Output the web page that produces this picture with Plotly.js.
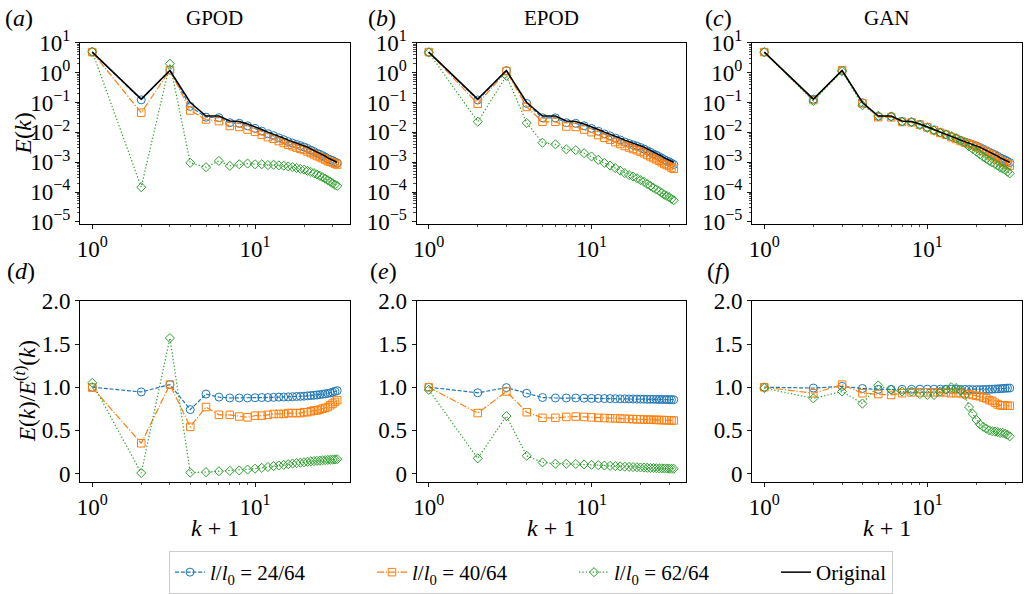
<!DOCTYPE html>
<html>
<head>
<meta charset="utf-8">
<script src="https://cdn.plot.ly/plotly-3.0.1.min.js"></script>
<style>html,body{margin:0;padding:0;background:#fff;}#chart{width:1028px;height:594px;}</style>
</head>
<body>
<div id="chart"></div>
<script>
// ---------- data (k + 1) ----------
const kPlus1 = [1,2,3,4,5,6,7,8,9,10,11,12,13,14,15,16,17,18,19,20,21,22,23,24,25,26,27,28,29,30,31,32];

// Original spectrum E(k)
const origE = [4.9,0.13,1.18,0.10,0.035,0.035,0.024,0.023,0.019,0.0155,0.0125,0.0102,0.0088,0.0074,0.0064,0.0055,0.0049,0.0044,0.0040,0.0036,0.0032,0.0028,0.0025,0.0022,0.0020,0.0018,0.0016,0.0014,0.0013,0.0012,0.00107,0.00098];

// GPOD spectra
const gpodE24 = [4.9,0.123,1.215,0.074,0.0322,0.031,0.021,0.0201,0.0166,0.0136,0.0110,0.00898,0.00776,0.00655,0.00567,0.00488,0.00436,0.00392,0.00358,0.00323,0.00288,0.00253,0.00227,0.00200,0.00183,0.00165,0.00148,0.00130,0.00121,0.00113,0.00102,0.00094];
const gpodE40 = [4.88,0.0455,1.215,0.054,0.027,0.0238,0.0163,0.0152,0.0124,0.0104,0.0084,0.0069,0.0061,0.0051,0.0044,0.00385,0.00343,0.00308,0.0028,0.00256,0.00227,0.00202,0.00183,0.00161,0.00148,0.00135,0.00122,0.00108,0.00103,0.00097,0.00089,0.00083];
const gpodE62 = [5.1,0.000145,2.0,0.00095,0.00068,0.0011,0.00075,0.00085,0.0009,0.00085,0.00085,0.0008,0.00082,0.00078,0.00076,0.00072,0.00068,0.00064,0.0006,0.00056,0.00051,0.00047,0.00043,0.00039,0.00035,0.00031,0.00028,0.00025,0.00022,0.000195,0.000175,0.00016];

// EPOD spectra
const epodE24 = [4.9,0.1215,1.174,0.093,0.0308,0.0306,0.021,0.0201,0.0166,0.0135,0.0109,0.00885,0.00764,0.00641,0.00554,0.00476,0.00423,0.0038,0.00345,0.0031,0.00276,0.00241,0.00215,0.00189,0.00172,0.00154,0.00137,0.0012,0.00111,0.00103,0.00092,0.00084];
const epodE40 = [4.9,0.091,1.12,0.071,0.0226,0.0226,0.0157,0.0152,0.0124,0.0101,0.0081,0.00656,0.00563,0.00472,0.00407,0.00349,0.0031,0.00277,0.00251,0.00226,0.002,0.00175,0.00156,0.00137,0.00124,0.00112,0.00099,0.00087,0.0008,0.00074,0.00066,0.0006];
const epodE62 = [4.75,0.0228,0.785,0.0205,0.00448,0.00396,0.00269,0.00253,0.002,0.00155,0.0012,0.00094,0.00077,0.00063,0.00052,0.00043,0.00037,0.00033,0.00029,0.00025,0.00022,0.000185,0.00016,0.000139,0.000122,0.000108,0.000094,0.000081,0.000074,0.000067,0.000059,0.000053];

// GAN spectra
const ganE24 = [4.9,0.129,1.19,0.0985,0.0341,0.0341,0.0234,0.0224,0.0186,0.0151,0.0122,0.00997,0.0086,0.00723,0.00625,0.00536,0.00477,0.00428,0.00389,0.0035,0.00311,0.00272,0.00244,0.00215,0.00195,0.00176,0.00157,0.00138,0.00128,0.00118,0.00106,0.00097];
const ganE40 = [4.9,0.121,1.215,0.093,0.0322,0.0319,0.0223,0.0216,0.0179,0.0146,0.01175,0.0096,0.00827,0.00688,0.00595,0.00512,0.00451,0.00405,0.00364,0.00324,0.00286,0.00246,0.00218,0.00187,0.00168,0.00148,0.00128,0.00111,0.00103,0.00094,0.00084,0.00077];
const ganE62 = [4.85,0.113,1.12,0.081,0.0357,0.034,0.0228,0.0219,0.0175,0.0141,0.0114,0.0097,0.00854,0.0074,0.00634,0.00528,0.00446,0.00339,0.00276,0.00223,0.00182,0.00151,0.0013,0.0011,0.00098,0.00087,0.00077,0.00066,0.00061,0.00055,0.00048,0.00042];

// Ratios E(k)/E^(t)(k)
const gpodR24 = [1.0,0.945,1.03,0.74,0.92,0.885,0.875,0.875,0.875,0.878,0.88,0.88,0.882,0.885,0.886,0.888,0.89,0.892,0.894,0.896,0.9,0.903,0.906,0.91,0.914,0.918,0.923,0.928,0.934,0.942,0.952,0.96];
const gpodR40 = [0.995,0.35,1.03,0.54,0.77,0.68,0.68,0.66,0.65,0.67,0.67,0.68,0.69,0.69,0.69,0.70,0.70,0.70,0.70,0.71,0.71,0.72,0.73,0.73,0.74,0.75,0.76,0.77,0.79,0.81,0.83,0.85];
const gpodR62 = [1.05,0.005,1.57,0.01,0.015,0.025,0.03,0.035,0.045,0.055,0.065,0.075,0.085,0.093,0.10,0.108,0.115,0.12,0.125,0.13,0.135,0.14,0.143,0.146,0.149,0.152,0.155,0.157,0.159,0.161,0.163,0.165];

const epodR24 = [1.0,0.935,0.995,0.93,0.88,0.875,0.875,0.875,0.872,0.87,0.87,0.868,0.868,0.866,0.865,0.865,0.864,0.863,0.862,0.862,0.861,0.86,0.86,0.86,0.859,0.858,0.858,0.857,0.857,0.856,0.856,0.855];
const epodR40 = [1.0,0.70,0.95,0.71,0.645,0.645,0.655,0.66,0.655,0.65,0.645,0.643,0.64,0.638,0.636,0.634,0.632,0.63,0.628,0.627,0.625,0.624,0.623,0.622,0.621,0.62,0.619,0.618,0.617,0.616,0.615,0.614];
const epodR62 = [0.97,0.175,0.665,0.205,0.128,0.113,0.112,0.11,0.105,0.1,0.096,0.092,0.088,0.085,0.082,0.079,0.076,0.074,0.072,0.07,0.068,0.066,0.064,0.063,0.061,0.06,0.059,0.058,0.057,0.056,0.055,0.054];

const ganR24 = [1.0,0.99,1.01,0.985,0.975,0.975,0.975,0.976,0.977,0.977,0.977,0.977,0.977,0.977,0.976,0.975,0.974,0.973,0.972,0.972,0.972,0.973,0.974,0.975,0.977,0.979,0.981,0.983,0.985,0.987,0.989,0.99];
const ganR40 = [1.0,0.93,1.03,0.93,0.92,0.91,0.93,0.94,0.94,0.94,0.94,0.94,0.94,0.93,0.93,0.93,0.92,0.92,0.91,0.90,0.895,0.88,0.87,0.85,0.84,0.82,0.80,0.79,0.79,0.785,0.785,0.785];
const ganR62 = [0.99,0.87,0.95,0.81,1.02,0.97,0.95,0.95,0.92,0.91,0.91,0.95,0.97,1.0,0.99,0.96,0.91,0.77,0.69,0.62,0.57,0.54,0.52,0.50,0.49,0.485,0.48,0.47,0.47,0.46,0.45,0.43];

// labels
const seriesNames = ['<i>l</i>/<i>l</i><sub>0</sub> = 24/64','<i>l</i>/<i>l</i><sub>0</sub> = 40/64','<i>l</i>/<i>l</i><sub>0</sub> = 62/64'];
const originalName = 'Original';
const methodTitles = ['GPOD','EPOD','GAN'];
const panelLetters = ['a','b','c','d','e','f'];
const xTickVals = [1,10];
const xTickText = ['10<sup>0</sup>','10<sup>1</sup>'];
const yLogTickVals = [1e-5,1e-4,1e-3,1e-2,1e-1,1,10];
const yLogTickText = ['10<sup>−5</sup>','10<sup>−4</sup>','10<sup>−3</sup>','10<sup>−2</sup>','10<sup>−1</sup>','10<sup>0</sup>','10<sup>1</sup>'];
const yLinTickVals = [0,0.5,1,1.5,2];
const yLinTickText = ['0','0.5','1.0','1.5','2.0'];

// ---------- styling ----------
const STY = [
  {color:'#1f77b4', dash:'4px,1.8px', symbol:'circle-open', size:8},
  {color:'#ff7f0e', dash:'7px,1.8px,1.2px,1.8px', symbol:'square-open', size:7.5},
  {color:'#2ca02c', dash:'1.3px,2.1px', symbol:'diamond-open', size:7}
];
const FONT = 'Liberation Serif';

const topSets = [[gpodE24,gpodE40,gpodE62],[epodE24,epodE40,epodE62],[ganE24,ganE40,ganE62]];
const botSets = [[gpodR24,gpodR40,gpodR62],[epodR24,epodR40,epodR62],[ganR24,ganR40,ganR62]];

const traces = [];
function addSeries(arrs, xa, ya, withOrig, legend) {
  arrs.forEach((arr, i) => {
    traces.push({
      x: kPlus1, y: arr, xaxis: xa, yaxis: ya, type: 'scatter', mode: 'lines+markers',
      name: seriesNames[i], showlegend: legend, legendgroup: 's'+i, legendwidth: 157,
      line: {color: STY[i].color, width: 1.2, dash: STY[i].dash},
      marker: {symbol: STY[i].symbol, size: STY[i].size, color: STY[i].color, line: {width: 1, color: STY[i].color}}
    });
  });
  if (withOrig) {
    traces.push({
      x: kPlus1, y: origE, xaxis: xa, yaxis: ya, type: 'scatter', mode: 'lines',
      name: originalName, showlegend: legend, legendgroup: 'orig',
      line: {color: '#000000', width: 1.5}
    });
  }
}
const axIds = ['', '2', '3', '4', '5', '6'];
for (let c = 0; c < 3; c++) {
  addSeries(topSets[c], 'x' + axIds[c], 'y' + axIds[c], true, c === 0);
}
for (let c = 0; c < 3; c++) {
  addSeries(botSets[c], 'x' + axIds[c+3], 'y' + axIds[c+3], false, false);
}

// ---------- layout ----------
const W = 1028, H = 594;
const colPx = [[80, 349.5], [416.5, 686], [752, 1022]];
const topPx = [43.3, 226.5], botPx = [304, 487];
const px2x = p => p / W, px2y = p => 1 - p / H;

const minorX = [2,3,4,5,6,7,8,9,20,30];
const minorY = [];
[1e-5,1e-4,1e-3,1e-2,1e-1,1].forEach(d => { for (let m = 2; m <= 9; m++) minorY.push(+(m*d).toPrecision(3)); });

function xAxis(c, anchor) {
  return {
    type: 'log', range: [-0.0753, 1.5805], domain: [px2x(colPx[c][0]), px2x(colPx[c][1])], anchor: anchor,
    tickmode: 'array', tickvals: xTickVals, ticktext: xTickText,
    ticks: 'outside', ticklen: 4, tickwidth: 0.9, tickcolor: '#000',
    showline: true, mirror: true, linecolor: '#000', linewidth: 1,
    showgrid: false, zeroline: false, tickfont: {size: 23, family: FONT, color: '#000'},
    minor: {tickmode: 'array', tickvals: minorX, ticks: 'outside', ticklen: 2.2, tickwidth: 0.7, tickcolor: '#000', showgrid: false}
  };
}
function yAxisTop(c, anchor) {
  return {
    type: 'log', range: [-5.08, 1.0], domain: [px2y(topPx[1]), px2y(topPx[0])], anchor: anchor,
    tickmode: 'array', tickvals: yLogTickVals, ticktext: yLogTickText,
    ticks: 'outside', ticklen: 4, tickwidth: 0.9, tickcolor: '#000',
    showline: true, mirror: true, linecolor: '#000', linewidth: 1,
    showgrid: false, zeroline: false, tickfont: {size: 23, family: FONT, color: '#000'},
    minor: {tickmode: 'array', tickvals: minorY, ticks: 'outside', ticklen: 2.2, tickwidth: 0.7, tickcolor: '#000', showgrid: false}
  };
}
function yAxisBot(c, anchor) {
  return {
    range: [-0.1, 2.0], domain: [px2y(botPx[1]), px2y(botPx[0])], anchor: anchor,
    tickmode: 'array', tickvals: yLinTickVals, ticktext: yLinTickText,
    ticks: 'outside', ticklen: 4, tickwidth: 0.9, tickcolor: '#000',
    showline: true, mirror: true, linecolor: '#000', linewidth: 1,
    showgrid: false, zeroline: false, tickfont: {size: 23, family: FONT, color: '#000'}
  };
}

const layout = {
  width: W, height: H, margin: {l: 0, r: 0, t: 0, b: 0},
  paper_bgcolor: '#fff', plot_bgcolor: '#fff',
  font: {family: FONT, color: '#000', size: 20},
  showlegend: true,
  legend: {
    orientation: 'h', x: px2x(531), xanchor: 'center', y: px2y(557), yanchor: 'top',
    bordercolor: '#cccccc', borderwidth: 1, bgcolor: '#fff',
    font: {size: 21, family: FONT, color: '#000'}, traceorder: 'normal'
  },
  annotations: []
};
for (let c = 0; c < 3; c++) {
  layout['xaxis' + axIds[c]] = xAxis(c, 'y' + axIds[c]);
  layout['yaxis' + axIds[c]] = yAxisTop(c, 'x' + axIds[c]);
  layout['xaxis' + axIds[c+3]] = xAxis(c, 'y' + axIds[c+3]);
  layout['yaxis' + axIds[c+3]] = yAxisBot(c, 'x' + axIds[c+3]);
}

const ann = layout.annotations;
const letterX = [3, 366, 703];
for (let c = 0; c < 3; c++) {
  const cx = (colPx[c][0] + colPx[c][1]) / 2;
  ann.push({xref:'paper', yref:'paper', x: px2x(cx), y: px2y(18), xanchor:'center', yanchor:'middle', showarrow:false,
            text: methodTitles[c], font:{size:21, family:FONT}});
  ann.push({xref:'paper', yref:'paper', x: px2x(letterX[c]), y: px2y(18), xanchor:'left', yanchor:'middle', showarrow:false,
            text: '(<i>' + panelLetters[c] + '</i>)', font:{size:24, family:FONT}});
  ann.push({xref:'paper', yref:'paper', x: px2x(letterX[c] + 2), y: px2y(274), xanchor:'left', yanchor:'middle', showarrow:false,
            text: '(<i>' + panelLetters[c+3] + '</i>)', font:{size:24, family:FONT}});
  ann.push({xref:'paper', yref:'paper', x: px2x(cx), y: px2y(533), xanchor:'center', yanchor:'middle', showarrow:false,
            text: '<i>k</i> + 1', font:{size:24, family:FONT}});
}
ann.push({xref:'paper', yref:'paper', x: px2x(23), y: px2y(135), xanchor:'center', yanchor:'middle', showarrow:false,
          textangle: -90, text: '<i>E</i>(<i>k</i>)', font:{size:24, family:FONT}});
ann.push({xref:'paper', yref:'paper', x: px2x(25), y: px2y(395), xanchor:'center', yanchor:'middle', showarrow:false,
          textangle: -90, text: '<i>E</i>(<i>k</i>)/<i>E</i><sup>(<i>t</i>)</sup>(<i>k</i>)', font:{size:23, family:FONT}});

Plotly.newPlot('chart', traces, layout, {displayModeBar: false, staticPlot: true});
</script>
</body>
</html>
